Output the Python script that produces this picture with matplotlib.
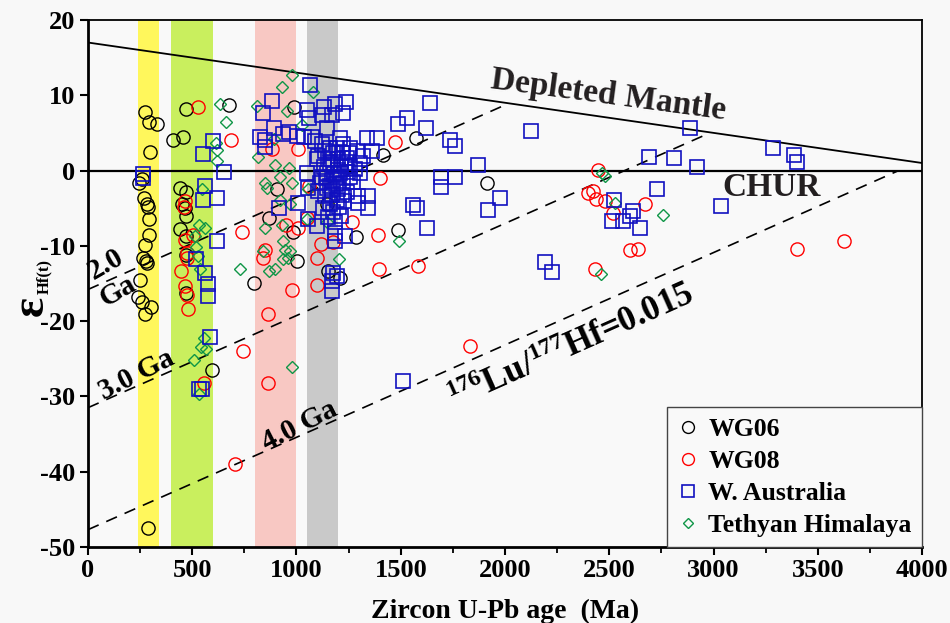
import numpy as np
import matplotlib
matplotlib.use('Agg')
import matplotlib.pyplot as plt

# ---- data (age in Ma, eHf(t)) ----
wg06_age = [273, 294, 332, 297, 245, 258, 269, 284, 289, 293, 293, 273, 262, 278, 285, 249, 241, 258, 301, 273, 289,
            470, 409, 457, 441, 469, 449, 465, 469, 441, 469, 470, 469, 596, 678,
            990, 908, 870, 985, 1001, 798, 1145, 1285, 1152, 1209, 1573, 1416, 1488, 1912]
wg06_ehf = [7.8, 6.5, 6.2, 2.5, -1.7, -1.1, -3.6, -4.4, -4.9, -6.4, -8.5, -9.9, -11.6, -12.0, -12.3, -14.5, -16.8, -17.5, -18.1, -19.0, -47.5,
            8.2, 4.0, 4.5, -2.3, -2.8, -4.5, -5.0, -6.1, -7.8, -8.7, -11.2, -16.2, -26.5, 8.7,
            8.4, -2.4, -6.3, -8.2, -12.0, -15.0, -4.5, -8.8, -13.4, -14.3, 4.3, 2.0, -7.9, -1.6]

wg08_age = [528, 686, 465, 460, 505, 465, 473, 473, 446, 465, 473, 481, 740, 556, 742, 862, 865, 980, 1097, 705,
            881, 1009, 1061, 950, 1006, 1052, 1265, 1390, 1116, 1174, 1097, 849, 841, 1400, 1395, 1472, 1581,
            2448, 2400, 2424, 2435, 2480, 2516, 2671, 2600, 2639, 2432, 3399, 3626, 1832]
wg08_ehf = [8.5, 4.0, -4.1, -4.9, -8.6, -9.2, -10.9, -11.6, -13.4, -15.3, -16.5, -18.4, -8.1, -28.2, -24.0, -19.0, -28.2, -15.9, -15.2, -39.0,
            2.8, 2.8, -2.0, -7.2, -7.6, -6.3, -6.9, -8.5, -9.8, -9.5, -11.6, -10.5, -11.6, -1.0, -13.1, 3.8, -12.7,
            0.1, -3.0, -2.7, -3.8, -4.1, -5.7, -4.4, -10.6, -10.4, -13.1, -10.4, -9.3, -23.3]

wa_age = [265, 265, 598, 553, 654, 563, 550, 620, 620, 518, 563, 574, 574, 585, 532, 545,
          881, 838, 892, 825, 849, 849, 934, 964, 1001, 1038, 1073, 1065, 1052, 1062, 1132, 1185, 1237, 1225,
          1121, 1169, 1145, 1089, 1121, 1209, 1105, 1097, 1137, 1161, 1225, 1257, 1289, 1336, 1385, 1361,
          1320, 1305, 1257, 1305, 1052, 1200, 1145, 1169, 1113, 1225, 1257, 1057, 1145, 1200, 1169, 1105,
          1193, 1137, 1217, 1296, 1344, 1296, 1344, 1009, 918, 1057, 1100, 1185, 1185, 1233, 1185, 1176,
          1169, 1196, 1169, 1200, 1240, 1176, 1217, 1161, 1233, 1193,
          1130, 1150, 1180, 1210, 1160, 1190, 1120, 1140, 1175, 1215, 1245, 1160, 1205, 1125, 1175, 1150,
          1215, 1240, 1270, 1280, 1250, 1195, 1230,
          1624, 1560, 1576, 1640, 1531, 1488, 1621, 1736, 1760, 1872, 1692, 1760, 1692, 1976, 1920, 2123,
          2192, 2227, 2524, 2512, 2568, 2616, 2600, 2648, 2692, 2727, 2812, 2887, 2922, 3034, 3284, 3388,
          3399, 1509]
wa_ehf = [-0.4, -1.0, 3.9, 2.2, -0.2, -2.1, -3.9, -3.6, -9.3, -11.7, -13.6, -15.1, -16.7, -22.1, -29.0, -29.0,
          9.3, 7.6, 5.7, 4.4, 4.1, 3.1, 4.8, 5.1, 4.6, 4.4, 4.4, 11.3, 8.1, 7.0, 8.4, 8.8, 9.1, 7.7,
          7.4, 7.4, 5.7, 3.9, 3.5, 4.3, 1.9, 1.5, 2.6, 3.0, 3.5, 3.0, 2.6, 4.3, 4.3, 2.6,
          1.9, 1.0, 0.6, -0.3, -0.3, 0.1, -0.3, -1.2, -1.6, -1.6, -0.8, -2.3, -2.3, -2.5, -3.2, -2.7,
          -3.9, -3.4, -3.2, -3.4, -3.4, -4.3, -5.0, -4.3, -5.0, -6.5, -7.4, -6.9, -8.3, -8.7, -9.4, -13.6,
          -14.7, -14.0, -16.0, 1.5, 1.7, 2.3, 2.3, 1.0, 0.6, -0.8,
          0.5, 1.5, -0.5, -0.3, -2.0, -1.8, -0.8, -1.0, 0.8, 0.9, -0.2, -4.5, -4.8, -5.0, -5.5, -6.2,
          -6.0, -2.8, -1.5, 0.2, 2.3, 3.0, -4.0,
          -7.6, -4.6, -5.0, 9.0, 7.0, 6.2, 5.6, 4.1, 3.2, 0.7, -0.8, -0.8, -2.2, -3.7, -5.2, 5.2,
          -12.1, -13.5, -3.9, -6.7, -6.7, -5.4, -6.0, -7.6, 1.8, -2.4, 1.6, 5.7, 0.5, -4.7, 3.0, 2.0,
          1.1, -28.0]

th_age = [633, 662, 614, 617, 617, 809, 815, 545, 534, 561, 513, 518, 529, 537, 729, 556, 540, 566, 510, 534, 978,
          977, 932, 1081, 953, 1025, 892, 897, 966, 921, 849, 857, 977, 921, 969, 1057, 849, 929, 937, 841,
          945, 969, 961, 937, 870, 897, 1145, 1205, 1049, 1490, 2464, 2480, 2528, 2756, 2460]
th_ehf = [8.8, 6.4, 3.6, 2.7, 1.2, 8.6, 1.8, -2.5, -7.3, -7.6, -8.7, -10.1, -11.4, -13.1, -13.1, -22.2, -23.4, -23.7, -25.2, -29.7, -26.1,
          12.7, 11.1, 10.4, 7.9, 6.1, 4.2, 0.7, 0.3, -0.8, -1.7, -2.3, -1.6, -3.9, -4.5, -2.5, -7.6, -7.2, -9.4, -10.7,
          -10.5, -10.7, -11.6, -11.8, -13.4, -13.1, -6.9, -11.8, -6.5, -9.3, -0.3, -0.7, -4.3, -5.9, -13.8]

# reference curves (age, eHf) end points
dm_age = [0, 4000]
dm_ehf = [17.0, 1.0]
evo_age = [[0, 2000], [0, 2950], [0, 3880]]
evo_ehf = [[-15.8, 8.7], [-31.5, 4.6], [-47.7, -0.1]]

# shaded age windows (Ma)
bands = [(240, 340), (400, 600), (800, 1000), (1050, 1200)]
band_colors = ['#fff75c', '#c9ef5e', '#f8c8c3', '#c9c9c9']

serif = 'Liberation Serif'
txt_color = '#231f20'


def main():
    plt.rcParams.update({'font.family': serif, 'font.weight': 'bold', 'font.size': 19,
                         'axes.labelweight': 'bold', 'axes.unicode_minus': False,
                         'mathtext.fontset': 'custom', 'mathtext.rm': 'Liberation Serif:bold',
                         'mathtext.it': 'Liberation Serif:bold:italic', 'mathtext.bf': 'Liberation Serif:bold'})
    fig = plt.figure(figsize=(9.5, 6.23), dpi=100, facecolor='#f8f8f8')
    ax = fig.add_axes([0.0926, 0.122, 0.878, 0.846])
    ax.set_facecolor('#f9f9f9')

    for (a0, a1), c in zip(bands, band_colors):
        ax.axvspan(a0, a1, color=c, lw=0, zorder=0)

    ax.plot(dm_age, dm_ehf, color='k', lw=1.3, zorder=1)
    ax.axhline(0, color='k', lw=1.6, zorder=1)
    for xa, ya in zip(evo_age, evo_ehf):
        ax.plot(xa, ya, color='k', lw=1.2, linestyle=(0, (7, 5)), zorder=1)

    ms = 9.5
    ax.plot(wg06_age, wg06_ehf, 'o', mfc='none', mec='k', ms=ms, mew=1.0, label='WG06', zorder=3)
    ax.plot(wg08_age, wg08_ehf, 'o', mfc='none', mec='#ff0000', ms=ms, mew=1.0, label='WG08', zorder=3)
    ax.plot(wa_age, wa_ehf, 's', mfc='none', mec='#1010c0', ms=ms, mew=1.2, label='W. Australia', zorder=4)
    ax.plot(th_age, th_ehf, 'D', mfc='none', mec='#0f9647', ms=5.8, mew=1.0, label='Tethyan Himalaya', zorder=3)

    # curve labels
    ax.text(1928, 11.0, 'Depleted Mantle', rotation=-7.6, rotation_mode='anchor', ha='left', va='baseline',
            fontsize=24, color=txt_color)
    ax.text(3276, -2.2, 'CHUR', ha='center', va='center', fontsize=24, color=txt_color)
    ax.text(86, -12.5, '2.0', rotation=30, rotation_mode='anchor', ha='center', va='center', fontsize=21)
    ax.text(144, -16.0, 'Ga', rotation=30, rotation_mode='anchor', ha='center', va='center', fontsize=21)
    ax.text(233, -27.1, '3.0 Ga', rotation=27, rotation_mode='anchor', ha='center', va='center', fontsize=21)
    ax.text(1017, -33.9, '4.0 Ga', rotation=27, rotation_mode='anchor', ha='center', va='center', fontsize=21)
    ax.text(2321, -23.5, r'$^{176}$Lu/$^{177}$Hf=0.015', rotation=24, rotation_mode='anchor',
            ha='center', va='center', fontsize=25)

    ax.set_xlim(0, 4000)
    ax.set_ylim(-50, 20)
    ax.set_xticks(np.arange(0, 4001, 500))
    ax.set_xticks(np.arange(0, 4001, 250), minor=True)
    ax.set_yticks(np.arange(-50, 21, 10))
    ax.tick_params(direction='out', length=6, width=1.5, labelsize=19, pad=3)
    ax.tick_params(which='minor', direction='out', length=4, width=1.3)
    for s in ax.spines.values():
        s.set_linewidth(1.3)
    ax.spines['left'].set_linewidth(2)
    ax.spines['bottom'].set_linewidth(2)

    ax.set_xlabel('Zircon U-Pb age  (Ma)', fontsize=20, labelpad=12)
    # y label: large epsilon with small Hf(t) subscript
    fig.text(32 / 950, 1 - 306 / 623, 'ε', rotation=90, ha='center', va='center', fontsize=34)
    fig.text(44 / 950, 1 - 277 / 623, 'Hf(t)', rotation=90, ha='center', va='center', fontsize=12)

    leg = ax.legend(loc='lower right', borderaxespad=0, fontsize=18.5, fancybox=False, handlelength=0.8,
                    handletextpad=0.4, labelspacing=0.35, borderpad=0.4, markerscale=0.9)
    leg.get_frame().set_edgecolor('#444444')
    leg.get_frame().set_facecolor('#f9f9f9')
    leg.get_frame().set_linewidth(1.0)
    leg.get_frame().set_alpha(1)

    plt.savefig('out.png', dpi=100, facecolor=fig.get_facecolor())


if __name__ == "__main__":
    main()
